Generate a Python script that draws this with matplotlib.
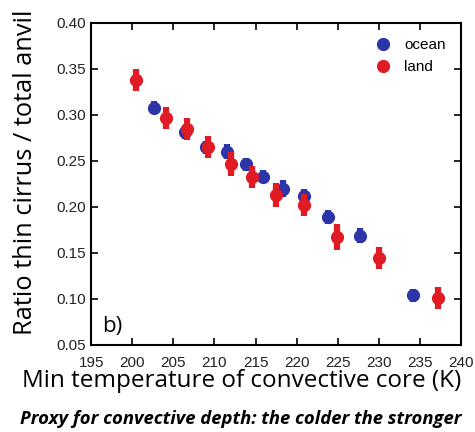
import matplotlib
matplotlib.use("Agg")
import matplotlib.pyplot as plt

# Min temperature of convective core (K) and ratio thin cirrus / total anvil
ocean_t = [202.6, 206.4, 209.0, 211.5, 213.8, 215.9, 218.4, 220.9, 223.8, 227.7, 234.1]
ocean_r = [0.308, 0.2815, 0.265, 0.260, 0.2464, 0.233, 0.220, 0.2116, 0.189, 0.169, 0.104]
ocean_err = [0.007, 0.008, 0.007, 0.008, 0.007, 0.007, 0.009, 0.008, 0.008, 0.008, 0.007]

land_t = [200.45, 204.06, 206.7, 209.25, 212.0, 214.6, 217.5, 220.9, 224.9, 230.05, 237.15]
land_r = [0.3385, 0.2967, 0.285, 0.2652, 0.247, 0.2326, 0.2135, 0.2026, 0.1674, 0.1446, 0.1015]
land_err = [0.012, 0.012, 0.012, 0.012, 0.013, 0.012, 0.013, 0.012, 0.014, 0.012, 0.012]

blue = '#2b35a8'
red = '#e01b24'

fig = plt.figure(figsize=(4.75, 4.32), dpi=100)
ax = fig.add_axes([0.192, 0.2014, 0.7785, 0.7454])

ax.errorbar(ocean_t, ocean_r, yerr=ocean_err, fmt='o', color=blue, ms=8.5,
            elinewidth=4.5, capsize=0, label='ocean', zorder=2)
ax.errorbar(land_t, land_r, yerr=land_err, fmt='o', color=red, ms=8.5,
            elinewidth=4.5, capsize=0, label='land', zorder=3)

ax.set_xlim(195, 240)
ax.set_ylim(0.05, 0.40)
ax.set_xticks(range(195, 241, 5))
ax.set_yticks([0.05, 0.10, 0.15, 0.20, 0.25, 0.30, 0.35, 0.40])
ax.set_yticklabels(['%.2f' % v for v in ax.get_yticks()])
ax.tick_params(direction='in', top=True, right=True, length=5, width=1.2,
               labelsize=11, labelcolor='#222222')
ax.tick_params(axis='x', pad=8)
ax.tick_params(axis='y', pad=4)
for lbl in ax.get_xticklabels() + ax.get_yticklabels():
    lbl.set_family('Liberation Sans')
for s in ax.spines.values():
    s.set_linewidth(1.5)

# axis titles placed on the figure, as in the original layout
fig.text(26 / 475, 1 - 172 / 432, 'Ratio thin cirrus / total anvil', rotation=90,
         ha='center', va='center', fontsize=18.3, family='Open Sans')
fig.text(242 / 475, 1 - 381 / 432, 'Min temperature of convective core (K)',
         ha='center', va='center', fontsize=17.5, family='Open Sans')

ax.text(0.03, 0.04, 'b)', transform=ax.transAxes, fontsize=16, family='Open Sans')

handles, labels = ax.get_legend_handles_labels()
leg = ax.legend([h[0] for h in handles], labels, loc='upper right', frameon=False,
                handlelength=1.0, handletextpad=0.9, borderaxespad=0.6,
                prop={'family': 'Liberation Sans', 'size': 11})

fig.text(241 / 475, 1 - 419 / 432, 'Proxy for convective depth: the colder the stronger',
         ha='center', va='center', fontsize=13.3, fontweight='bold',
         fontstyle='italic', family='Open Sans')

fig.savefig('out.png', dpi=100)
